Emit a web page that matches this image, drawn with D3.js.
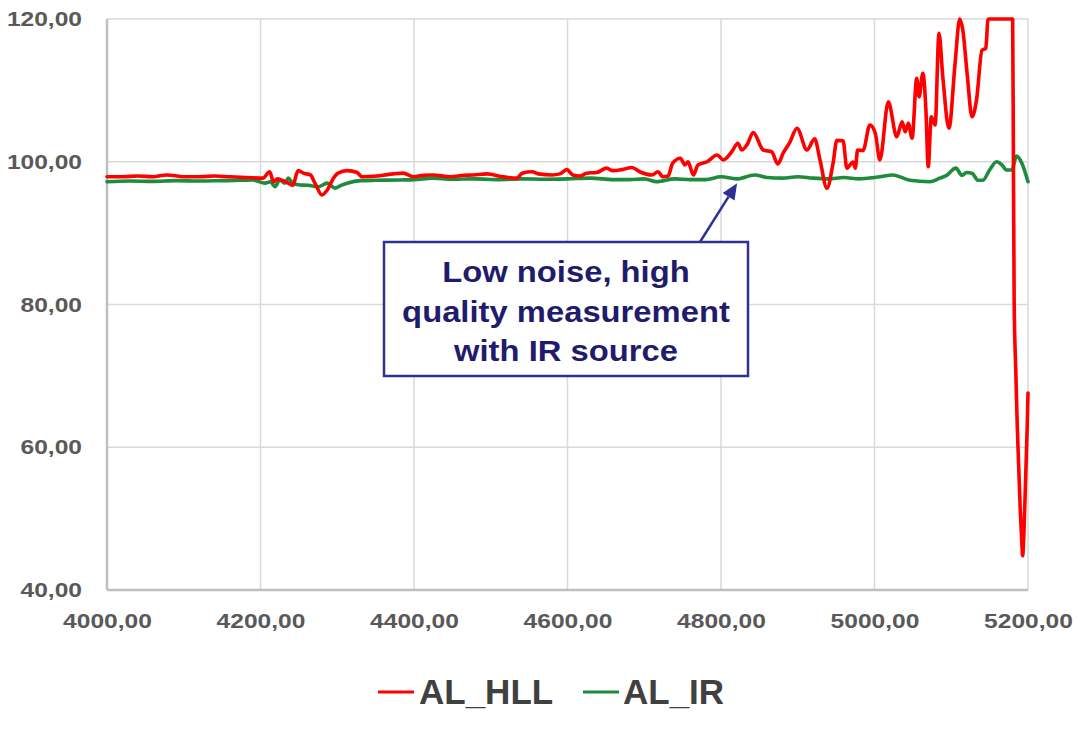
<!DOCTYPE html>
<html>
<head>
<meta charset="utf-8">
<script src="https://cdn.jsdelivr.net/npm/d3@7"></script>
<style>
  html, body { margin: 0; padding: 0; background: #ffffff; }
  svg { display: block; font-family: "Liberation Sans", Arial, sans-serif; }
</style>
</head>
<body>
<svg id="chart" width="1080" height="736"></svg>
<script>
// ---------- DATA ----------
const seriesNames = ["AL_HLL", "AL_IR"];
const xTicks = [4000, 4200, 4400, 4600, 4800, 5000, 5200];
const yTicks = [40, 60, 80, 100, 120];

const hllX = [4000,4020,4040,4060,4078,4100,4121,4140,4160,4182,4203,4212,4217,4222,4228,4236,4242,4249,4256,4265,4271,4280,4287,4295,4301,4313,4326,4332,4352,4365,4373,4386,4399,4412,4425,4447,4465,4477,4495,4515,4534,4541,4554,4562,4580,4590,4599,4607,4616,4625,4638,4651,4659,4671,4684,4694,4710,4718,4724,4731,4737,4747,4753,4757,4764,4770,4782,4795,4803,4814,4822,4827,4834,4842,4855,4866,4874,4881,4890,4899,4912,4922,4929,4938,4946,4951,4959,4964,4972,4975,4978,4985,4994,5001,5007,5018,5029,5036,5040,5044,5049,5055,5058,5063,5067,5070,5074,5079,5084,5089,5097,5105,5111,5115,5121,5127,5133,5140,5145,5148,5180,5181,5182,5184,5186,5188,5190,5192,5193,5195,5197,5199,5200];
const hllY = [97.9,97.9,98.0,97.9,98.15,97.9,97.9,98.0,97.9,97.8,97.7,98.6,97.2,97.6,97.4,97.0,96.7,98.75,98.4,98.15,97.0,95.35,96.05,97.7,98.4,98.75,98.5,97.9,98.0,98.2,98.3,98.4,97.9,98.1,98.15,97.9,98.1,98.15,98.3,97.9,97.7,98.4,98.6,98.3,98.15,98.3,98.9,98.15,98.0,98.4,98.5,99.1,98.75,98.9,99.2,98.6,98.15,98.6,97.9,98.0,99.8,100.5,99.55,100.0,98.15,99.55,100.0,100.95,100.25,101.4,102.6,101.65,102.4,104.1,101.65,101.4,99.7,101.2,102.8,104.7,101.65,103.2,100.25,96.3,99.8,103.0,102.95,99.1,99.96,99.1,101.65,101.55,105.15,104.0,100.25,108.4,103.5,105.6,104.2,105.4,103.3,111.7,109.1,112.4,107.25,99.3,106.3,105.15,118.0,111.9,104.7,113.8,120,118.5,112,106.3,108.7,115.6,115.9,120,120,100,80,71,63,57,51,46.5,44.8,49,56,63,67.6];

const irX = [4000,4030,4060,4090,4120,4150,4175,4190,4206,4213,4219,4225,4232,4236,4242,4251,4262,4275,4287,4297,4305,4313,4330,4350,4382,4400,4425,4450,4480,4510,4540,4570,4600,4630,4660,4680,4700,4716,4740,4760,4780,4800,4820,4844,4860,4880,4900,4920,4940,4960,4980,5000,5007,5024,5046,5072,5085,5094,5106,5114,5120,5127,5135,5141,5150,5159,5166,5172,5179,5185,5192,5200];
const irY = [97.2,97.3,97.25,97.35,97.3,97.35,97.4,97.45,97.0,97.2,96.5,97.45,97.0,97.7,97.0,96.75,96.7,96.5,97.0,96.3,96.7,97.0,97.35,97.4,97.45,97.5,97.7,97.55,97.6,97.5,97.6,97.55,97.6,97.7,97.5,97.5,97.6,97.2,97.6,97.5,97.5,97.9,97.6,98.15,97.8,97.7,97.9,97.7,97.6,97.8,97.6,97.8,97.9,98.15,97.4,97.2,97.7,98.1,99.1,98.1,98.5,98.4,97.4,97.4,98.85,100.0,99.55,98.85,98.85,100.8,99.8,97.2];

const annotationLines = ["Low noise, high", "quality measurement", "with IR source"];
const annotationTarget = [4821, 97.0];

// ---------- LAYOUT ----------
const svg = d3.select("#chart");
const margin = {left: 107, right: 52, top: 19, bottom: 146};
const W = 1080, H = 736;
const innerW = W - margin.left - margin.right;
const innerH = H - margin.top - margin.bottom;

const x = d3.scaleLinear().domain([4000, 5200]).range([0, innerW]);
const y = d3.scaleLinear().domain([40, 120]).range([innerH, 0]);

const loc = d3.formatLocale({decimal: ",", thousands: "", grouping: [3], currency: ["", ""]});
const fmt = loc.format(".2f");

const g = svg.append("g").attr("transform", `translate(${margin.left},${margin.top})`);

// gridlines
g.append("g").selectAll("line.hg").data(yTicks).join("line")
  .attr("x1", 0).attr("x2", innerW)
  .attr("y1", d => y(d)).attr("y2", d => y(d))
  .attr("stroke", "#d9d9d9").attr("stroke-width", 1.5);
g.append("g").selectAll("line.vg").data(xTicks).join("line")
  .attr("y1", 0).attr("y2", innerH)
  .attr("x1", d => x(d)).attr("x2", d => x(d))
  .attr("stroke", "#d9d9d9").attr("stroke-width", 1.5);

// axes
const SX = 1.17;
const yAxis = g.append("g").call(d3.axisLeft(y).tickValues(yTicks).tickFormat(fmt).tickSize(0).tickPadding(25));
yAxis.select(".domain").remove();
yAxis.selectAll("text")
  .attr("x", -25 / SX).attr("transform", `scale(${SX},1)`)
  .attr("fill", "#595959").attr("font-size", 21).attr("font-weight", "bold")
  .attr("font-family", "Liberation Sans, Arial, sans-serif");

const xAxis = g.append("g").attr("transform", `translate(0,${innerH})`)
  .call(d3.axisBottom(x).tickValues(xTicks).tickFormat(fmt).tickSize(0));
xAxis.select(".domain").remove();
xAxis.selectAll("text")
  .attr("y", 38).attr("dy", 0).attr("x", 0)
  .attr("transform", `scale(${SX},1)`)
  .attr("fill", "#595959").attr("font-size", 21).attr("font-weight", "bold")
  .attr("font-family", "Liberation Sans, Arial, sans-serif");

// axis lines
g.append("line").attr("x1", 0).attr("x2", 0).attr("y1", 0).attr("y2", innerH)
  .attr("stroke", "#bfbfbf").attr("stroke-width", 2.5);
g.append("line").attr("x1", 0).attr("x2", innerW).attr("y1", innerH).attr("y2", innerH)
  .attr("stroke", "#bfbfbf").attr("stroke-width", 2.5);

// lines
const line = d3.line().x(d => x(d[0])).y(d => y(d[1])).curve(d3.curveMonotoneX);
const irData = irX.map((v, i) => [v, irY[i]]);
const hllData = hllX.map((v, i) => [v, hllY[i]]);
const colors = {"AL_HLL": "#ff0000", "AL_IR": "#1e8c3c"};

g.append("path").datum(irData).attr("d", line)
  .attr("fill", "none").attr("stroke", colors["AL_IR"]).attr("stroke-width", 3.6)
  .attr("stroke-linejoin", "round").attr("stroke-linecap", "round");
g.append("path").datum(hllData).attr("d", line)
  .attr("fill", "none").attr("stroke", colors["AL_HLL"]).attr("stroke-width", 3.6)
  .attr("stroke-linejoin", "round").attr("stroke-linecap", "round");

// annotation
const navy = "#2e3192";
const boxX = 384 - margin.left, boxY = 242 - margin.top, boxW = 364, boxH = 134;
const tipX = x(annotationTarget[0]), tipY = y(annotationTarget[1]);
const startX = 700 - margin.left, startY = boxY;
const ang = Math.atan2(tipY - startY, tipX - startX);
const ahL = 16, ahW = 7;
const baseX = tipX - ahL * Math.cos(ang), baseY = tipY - ahL * Math.sin(ang);
g.append("line").attr("x1", startX).attr("y1", startY).attr("x2", baseX).attr("y2", baseY)
  .attr("stroke", navy).attr("stroke-width", 2.5);
g.append("path")
  .attr("d", `M${tipX},${tipY} L${baseX + ahW * Math.sin(ang)},${baseY - ahW * Math.cos(ang)} L${baseX - ahW * Math.sin(ang)},${baseY + ahW * Math.cos(ang)} Z`)
  .attr("fill", navy);
g.append("rect").attr("x", boxX).attr("y", boxY).attr("width", boxW).attr("height", boxH)
  .attr("fill", "#ffffff").attr("stroke", navy).attr("stroke-width", 2.5);
const cx = 566 - margin.left;
const ASX = 1.13;
const baselines = [282, 322, 361];
g.append("g").selectAll("text").data(annotationLines).join("text")
  .attr("x", cx / ASX).attr("y", (d, i) => baselines[i] - margin.top)
  .attr("transform", `scale(${ASX},1)`)
  .attr("text-anchor", "middle")
  .attr("fill", "#1f1c6b").attr("font-size", 29).attr("font-weight", "bold")
  .text(d => d);

// legend
const legend = svg.append("g");
const legendItems = [
  {name: seriesNames[0], lx: 378, tx: 419},
  {name: seriesNames[1], lx: 583, tx: 623}
];
legendItems.forEach(it => {
  legend.append("line").attr("x1", it.lx).attr("x2", it.lx + 36).attr("y1", 692).attr("y2", 692)
    .attr("stroke", colors[it.name]).attr("stroke-width", 3.2);
  legend.append("text").attr("x", it.tx).attr("y", 704)
    .attr("fill", "#404040").attr("font-size", 35).attr("font-weight", "bold")
    .text(it.name);
});
</script>
</body>
</html>
